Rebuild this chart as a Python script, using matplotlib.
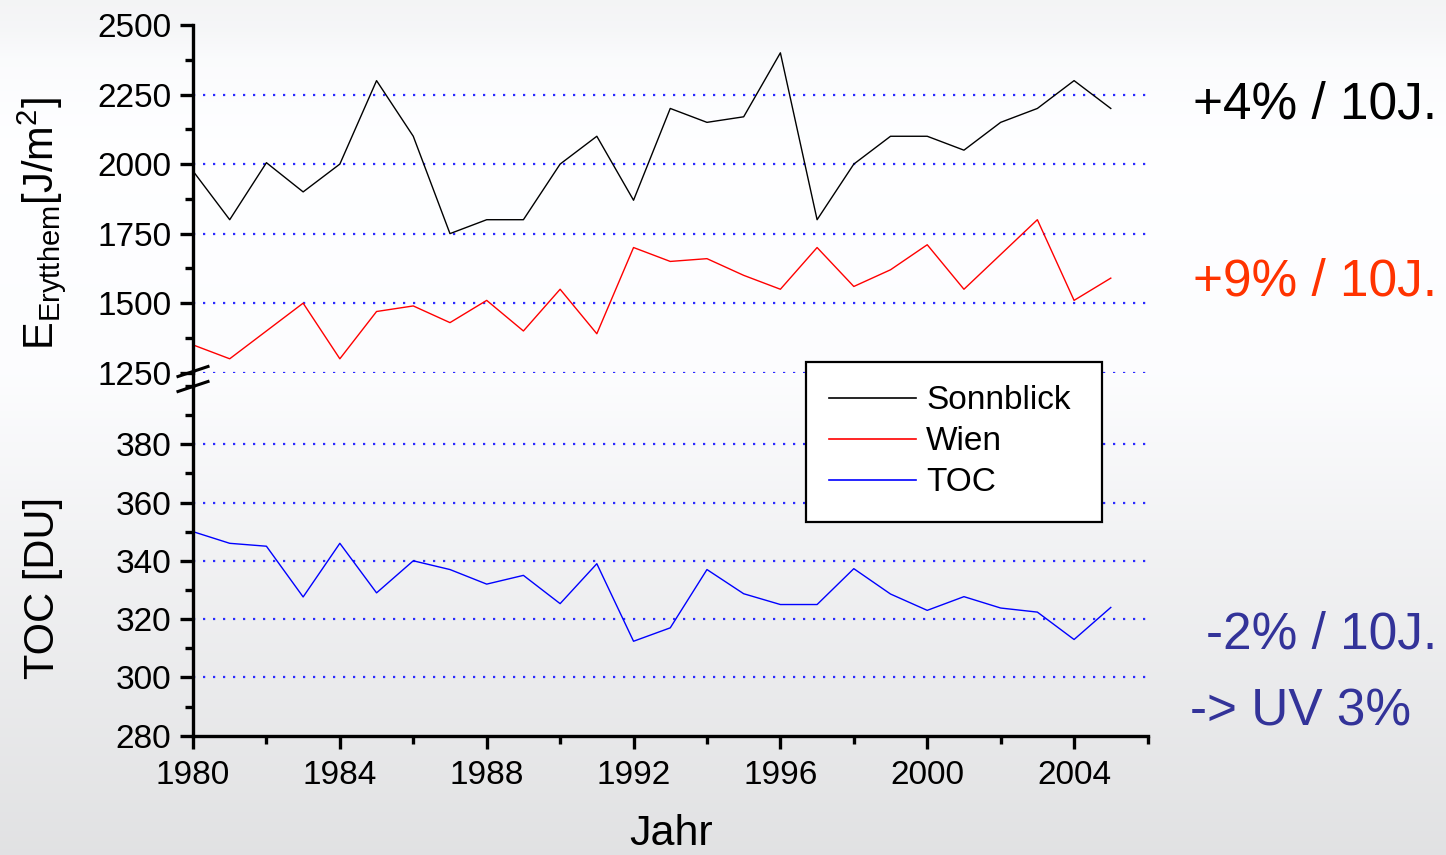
import numpy as np
import matplotlib
matplotlib.use("Agg")
import matplotlib.pyplot as plt
from matplotlib import font_manager
from matplotlib.lines import Line2D
from matplotlib.ticker import MultipleLocator

# data
years = list(range(1980, 2006))
sonnblick = [1975, 1800, 2005, 1900, 2000, 2300, 2100, 1750, 1800, 1800, 2000, 2100, 1870,
             2200, 2150, 2170, 2400, 1800, 2000, 2100, 2100, 2050, 2150, 2200, 2300, 2200]
wien = [1350, 1300, 1400, 1500, 1300, 1470, 1490, 1430, 1510, 1400, 1550, 1390, 1700,
        1650, 1660, 1600, 1550, 1700, 1560, 1620, 1710, 1550, 1675, 1800, 1510, 1590]
toc = [350, 346, 345, 327.6, 346, 329, 340, 337, 332, 335, 325.3, 339, 312.4,
       317, 337, 328.7, 325, 325, 337.3, 328.6, 323, 327.7, 323.8, 322.4, 313, 324]

series_names = ["Sonnblick", "Wien", "TOC"]
series_colors = ["black", "#ff0000", "#0000ff"]

top_ticks = [1250, 1500, 1750, 2000, 2250, 2500]
bottom_ticks = [280, 300, 320, 340, 360, 380]
year_ticks = [1980, 1984, 1988, 1992, 1996, 2000, 2004]

trend_texts = ["+4% / 10J.", "+9% / 10J.", "-2% / 10J.", "-> UV 3%"]
trend_colors = ["black", "#ff3300", "#333399", "#333399"]

plt.rcParams['font.family'] = ['Liberation Sans', 'DejaVu Sans']

W, H = 1446, 855
fig = plt.figure(figsize=(W / 100, H / 100), dpi=100)


def fx(x):
    return x / W


def fy(y):
    return 1 - y / H


# background gradient
bg = fig.add_axes([0, 0, 1, 1], zorder=-10)
rows = np.arange(H)
grey = np.interp(rows, [0, 30, 60, 150, 380, 520, 855],
                 [0.957, 0.965, 0.985, 1.0, 0.99, 0.955, 0.885])
img = np.repeat(grey[:, None], 4, axis=1)
img = np.dstack([img * 0.998, img, img * 1.006]).clip(0, 1)
bg.imshow(img, aspect='auto', extent=[0, 1, 0, 1])
bg.axis('off')

x0, x1 = 193, 1147.5
ax1 = fig.add_axes([fx(x0), fy(372.7), fx(x1 - x0), (372.7 - 25) / H])
ax2 = fig.add_axes([fx(x0), fy(735.7), fx(x1 - x0), (735.7 - 385.9) / H])

lw_spine = 2.4
for ax in (ax1, ax2):
    ax.set_facecolor('none')
    ax.set_xlim(1980, 2006)
    for s in ('top', 'right'):
        ax.spines[s].set_visible(False)
    ax.spines['left'].set_linewidth(lw_spine)
    ax.tick_params(axis='both', which='major', direction='out', length=9.5,
                   width=lw_spine, labelsize=24, pad=6)
    ax.tick_params(axis='both', which='minor', direction='out', length=5.5,
                   width=lw_spine)
ax2.tick_params(axis='x', which='major', pad=8)

ax1.spines['bottom'].set_visible(False)
ax1.set_ylim(1250, 2500)
ax1.set_yticks(top_ticks)
ax1.yaxis.set_minor_locator(MultipleLocator(125))
ax1.set_xticks([])
ax1.tick_params(axis='x', which='both', bottom=False, labelbottom=False)

ax2.spines['bottom'].set_linewidth(lw_spine)
ax2.set_ylim(280, 400)
ax2.set_yticks(bottom_ticks)
ax2.yaxis.set_minor_locator(MultipleLocator(10))
ax2.set_xticks(year_ticks)
ax2.xaxis.set_minor_locator(MultipleLocator(2))

grid_kw = dict(color='#2a2aff', linestyle=(0, (1, 3.5)), linewidth=1.6, zorder=0.5)
ax1.hlines(top_ticks[:-1], 1980, 2006, **grid_kw)
ax2.hlines(bottom_ticks[1:], 1980, 2006, **grid_kw)

ax1.plot(years, sonnblick, color=series_colors[0], lw=1.0, zorder=2)
ax1.plot(years, wien, color=series_colors[1], lw=1.0, zorder=2)
ax2.plot(years, toc, color=series_colors[2], lw=1.0, zorder=2)

# spine across the gap and the break marks
fig.add_artist(Line2D([fx(x0), fx(x0)], [fy(372.7), fy(386)], color='black',
                      lw=lw_spine, transform=fig.transFigure))
for yc in (371.5, 386.5):
    fig.add_artist(Line2D([fx(178), fx(208)], [fy(yc + 5), fy(yc - 5)], color='black',
                          lw=2.2, transform=fig.transFigure, zorder=5))

# axis labels
fig.text(fx(42), fy(224), r'E$_{\mathregular{Erytthem}}$[J/m$^{\mathregular{2}}$]',
         fontsize=30, rotation=90, ha='center', va='center')
fig.text(fx(43), fy(588), 'TOC [DU]', fontsize=30, rotation=90, ha='center', va='center')
fig.text(fx(671), fy(834), 'Jahr', fontsize=31, ha='center', va='center')

# legend
handles = [Line2D([], [], color=c, lw=1.2) for c in series_colors]
fig.legend(handles, series_names, loc='upper left',
           bbox_to_anchor=(fx(806), fy(519), 296 / W, 157 / H), mode='expand',
           borderaxespad=0, fontsize=24, handlelength=2.6, handletextpad=0.3,
           borderpad=0.7, labelspacing=0.3, fancybox=False, framealpha=1,
           edgecolor='black', facecolor='white').get_frame().set_linewidth(1.6)

# trend annotations
names = {f.name for f in font_manager.fontManager.ttflist}
if 'Liberation Sans Narrow' in names:
    tfam, tsize = ['Liberation Sans Narrow', 'DejaVu Sans'], 42
else:
    tfam, tsize = ['Liberation Sans', 'DejaVu Sans'], 37

pos = [(1437, 118, 'right'), (1437, 295, 'right'), (1437, 648, 'right'), (1190, 725, 'left')]
for (px, py, ha), t, c in zip(pos, trend_texts, trend_colors):
    fig.text(fx(px), fy(py), t, color=c, fontsize=tsize, family=tfam,
             ha=ha, va='baseline')

fig.savefig('out.png', dpi=100)
